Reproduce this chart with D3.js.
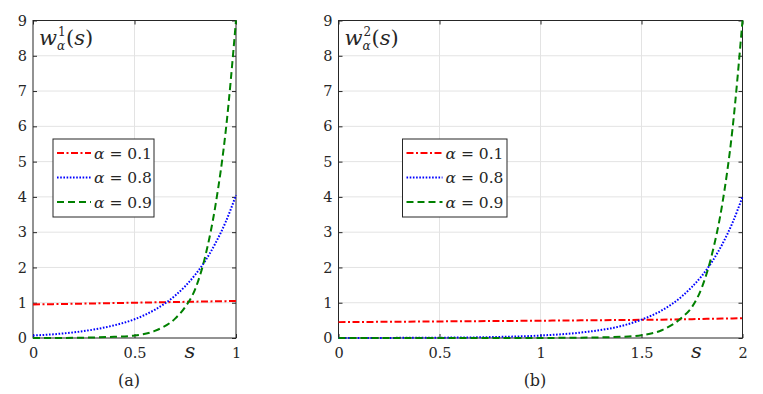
<!DOCTYPE html>
<html>
<head>
<meta charset="utf-8">
<script src="https://cdn.jsdelivr.net/npm/d3@7"></script>
<style>
  body { margin: 0; background: #fff; }
  svg text { font-family: 'DejaVu Serif', serif !important; fill: #262626; }
</style>
</head>
<body>
<div id="chart"></div>
<script>
var svgWidth = 763;
var svgHeight = 394;

// values
var sLeft = [0, 0.1, 0.2, 0.3, 0.4, 0.5, 0.6, 0.7, 0.75, 0.8, 0.85, 0.9, 0.95, 1];
var w1Alpha01 = [0.95, 0.96, 0.97, 0.98, 0.99, 1.0, 1.01, 1.02, 1.025, 1.03, 1.035, 1.04, 1.045, 1.05];
var w1Alpha08 = [0.07, 0.105, 0.16, 0.24, 0.36, 0.53, 0.80, 1.20, 1.47, 1.80, 2.20, 2.70, 3.30, 4.05];
var w1Alpha09 = [0, 0.002, 0.005, 0.015, 0.035, 0.07, 0.2, 0.55, 0.88, 1.4, 2.35, 3.8, 5.9, 9];

var sRight = [0, 0.25, 0.5, 0.75, 1, 1.2, 1.4, 1.5, 1.6, 1.7, 1.75, 1.8, 1.85, 1.9, 1.95, 2];
var w2Alpha01 = [0.45, 0.46, 0.47, 0.48, 0.49, 0.5, 0.51, 0.515, 0.52, 0.53, 0.535, 0.54, 0.545, 0.55, 0.555, 0.56];
var w2Alpha08 = [0.001, 0.003, 0.009, 0.025, 0.07, 0.155, 0.34, 0.52, 0.78, 1.18, 1.45, 1.77, 2.17, 2.66, 3.26, 4.0];
var w2Alpha09 = [0, 0, 0, 0, 0.002, 0.01, 0.035, 0.08, 0.22, 0.58, 0.88, 1.45, 2.4, 3.8, 5.9, 9];

var legendLabels = ["0.1", "0.8", "0.9"];
var yTicks = [0, 1, 2, 3, 4, 5, 6, 7, 8, 9];
var xTicksLeft = [0, 0.5, 1];
var xTicksRight = [0, 0.5, 1, 1.5, 2];

var lineStyles = [
  { color: "#ff0000", dash: "7,2.5,2,2.5" },
  { color: "#0000ff", dash: "1.6,1.6" },
  { color: "#008000", dash: "7,4" }
];

var svg = d3.select("#chart")
  .append("svg")
  .attr("width", svgWidth)
  .attr("height", svgHeight);

function drawPanel(opts) {
  var x = d3.scaleLinear().domain([0, opts.xMax]).range([opts.left, opts.right]);
  var y = d3.scaleLinear().domain([0, 9]).range([338, 20.5]);
  var g = svg.append("g");

  // grid
  g.selectAll(".gy").data(yTicks.slice(1, -1)).enter().append("line")
    .attr("x1", opts.left).attr("x2", opts.right)
    .attr("y1", d => y(d)).attr("y2", d => y(d))
    .attr("stroke", "#e3e3e3").attr("stroke-width", 1);
  g.selectAll(".gx").data(opts.xTicks.slice(1, -1)).enter().append("line")
    .attr("y1", y(0)).attr("y2", y(9))
    .attr("x1", d => x(d)).attr("x2", d => x(d))
    .attr("stroke", "#e3e3e3").attr("stroke-width", 1);

  // axes (ticks inside, mirrored)
  var bottomAxis = d3.axisBottom(x).tickValues(opts.xTicks).tickSizeInner(-4).tickSizeOuter(0)
    .tickFormat(d3.format("~g"));
  var topAxis = d3.axisTop(x).tickValues(opts.xTicks).tickSizeInner(-4).tickSizeOuter(0).tickFormat("");
  var leftAxis = d3.axisLeft(y).tickValues(yTicks).tickSizeInner(-4).tickSizeOuter(0);
  var rightAxis = d3.axisRight(y).tickValues(yTicks).tickSizeInner(-4).tickSizeOuter(0).tickFormat("");

  var bx = g.append("g").attr("transform", `translate(0, ${y(0)})`).call(bottomAxis);
  bx.selectAll("text").attr("dy", null).attr("y", 20);
  g.append("g").attr("transform", `translate(0, ${y(9)})`).call(topAxis);
  var ly = g.append("g").attr("transform", `translate(${opts.left}, 0)`).call(leftAxis);
  ly.selectAll("text").attr("x", -6);
  g.append("g").attr("transform", `translate(${opts.right}, 0)`).call(rightAxis);

  g.selectAll(".domain").remove();
  g.selectAll(".tick line").attr("stroke", "#262626");
  g.selectAll(".tick text").attr("fill", "#262626").style("font-size", "14.5px");

  g.append("rect")
    .attr("x", opts.left).attr("y", y(9))
    .attr("width", opts.right - opts.left).attr("height", y(0) - y(9))
    .attr("fill", "none").attr("stroke", "#262626").attr("stroke-width", 1);

  // curves
  var line = d3.line()
    .x(d => x(d[0]))
    .y(d => y(d[1]))
    .curve(d3.curveMonotoneX);

  opts.series.forEach(function(vals, i) {
    g.append("path")
      .datum(opts.s.map((s, j) => [s, vals[j]]))
      .attr("d", line)
      .attr("fill", "none")
      .attr("stroke", lineStyles[i].color)
      .attr("stroke-width", 2)
      .attr("stroke-dasharray", lineStyles[i].dash);
  });

  // panel title w^k_alpha(s) as one text with shifted tspans
  var title = g.append("text").attr("x", opts.left + 6).attr("y", 45).attr("font-size", 21);
  title.append("tspan").attr("font-style", "italic").text("w");
  var sup = title.append("tspan").attr("font-size", 12).attr("dy", -9.5).attr("dx", 1).text(opts.sup);
  var supW = sup.node().getComputedTextLength();
  title.append("tspan").attr("font-size", 12).attr("font-style", "italic")
    .attr("dx", -supW - 1).attr("dy", 14).text("α");
  title.append("tspan").attr("dy", -4.5).attr("dx", 1).text("(");
  title.append("tspan").attr("font-style", "italic").text("s");
  title.append("tspan").text(")");

  // x label s
  g.append("text")
    .attr("x", opts.right - 46).attr("y", 358)
    .attr("text-anchor", "middle")
    .attr("font-size", 21).attr("font-style", "italic")
    .text("s");

  // caption
  g.append("text")
    .attr("x", (opts.left + opts.right) / 2 - 5.5).attr("y", 386)
    .attr("text-anchor", "middle")
    .attr("font-size", 16)
    .text(opts.caption);

  // legend
  var lg = g.append("g").attr("transform", `translate(${opts.legX}, 139)`);
  lg.append("rect")
    .attr("width", opts.legW).attr("height", 78)
    .attr("fill", "#fff").attr("stroke", "#262626").attr("stroke-width", 1);
  legendLabels.forEach(function(lab, i) {
    var ly0 = 14 + i * 24.5;
    lg.append("line")
      .attr("x1", 4).attr("x2", opts.legLine)
      .attr("y1", ly0).attr("y2", ly0)
      .attr("stroke", lineStyles[i].color)
      .attr("stroke-width", 2)
      .attr("stroke-dasharray", lineStyles[i].dash);
    var t = lg.append("text")
      .attr("x", opts.legLine + 3).attr("y", ly0 + 5.5)
      .attr("font-size", 15.5);
    t.append("tspan").attr("font-style", "italic").text("α");
    t.append("tspan").text(" = " + lab);
  });
}

drawPanel({
  left: 33, right: 236, xMax: 1, xTicks: xTicksLeft,
  s: sLeft, series: [w1Alpha01, w1Alpha08, w1Alpha09],
  sup: "1", caption: "(a)",
  legX: 53, legW: 101, legLine: 38
});

drawPanel({
  left: 338.5, right: 742.5, xMax: 2, xTicks: xTicksRight,
  s: sRight, series: [w2Alpha01, w2Alpha08, w2Alpha09],
  sup: "2", caption: "(b)",
  legX: 402.5, legW: 104.5, legLine: 40
});
</script>
</body>
</html>
